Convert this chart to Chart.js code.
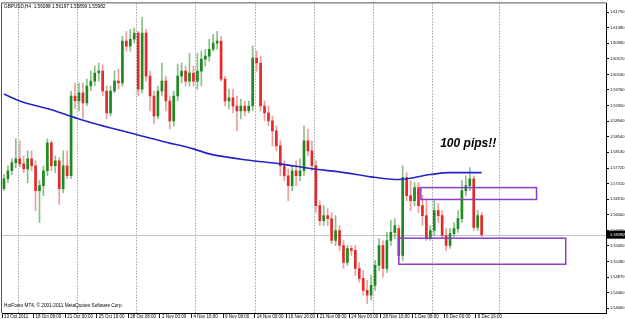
<!DOCTYPE html>
<html>
<head>
<meta charset="utf-8">
<script src="https://cdn.jsdelivr.net/npm/chart.js@4.4.0/dist/chart.umd.min.js"></script>
<style>
  html, body { margin: 0; padding: 0; background: #fff; }
  canvas { display: block; }
</style>
</head>
<body>
<canvas id="gbpChart" width="625" height="319"></canvas>
<script>
// GBPUSD, one candle per 8 hours
const opens = [
  1.5718, 1.5744, 1.5765, 1.5786, 1.5796, 1.5783, 1.5770, 1.5796, 1.5778, 1.5713,
  1.5726, 1.5765, 1.5838, 1.5778, 1.5791, 1.5718, 1.5778, 1.5752, 1.5960, 1.5947,
  1.5968, 1.5942, 1.5986, 1.5999, 1.6020, 1.6025, 1.5973, 1.5916, 1.5973, 1.5999,
  1.5994, 1.6103, 1.6090, 1.6108, 1.6124, 1.5978, 1.6124, 1.6012, 1.5960, 1.5908,
  1.5973, 1.5999, 1.5947, 1.5895, 1.5960, 1.6012, 1.6025, 1.5999, 1.6020, 1.5999,
  1.6025, 1.6056, 1.6064, 1.6082, 1.6098, 1.6103, 1.6004, 1.5947, 1.5955, 1.5934,
  1.5921, 1.5934, 1.5921, 1.5934, 1.6059, 1.6046, 1.5934, 1.5916, 1.5895, 1.5869,
  1.5830, 1.5778, 1.5752, 1.5726, 1.5765, 1.5752, 1.5765, 1.5843, 1.5817, 1.5778,
  1.5674, 1.5635, 1.5648, 1.5640, 1.5583, 1.5609, 1.5570, 1.5526, 1.5562, 1.5557,
  1.5510, 1.5484, 1.5453, 1.5440, 1.5466, 1.5518, 1.5570, 1.5510, 1.5583, 1.5604,
  1.5614, 1.5544, 1.5747, 1.5700, 1.5687, 1.5721, 1.5674, 1.5648, 1.5588, 1.5609,
  1.5661, 1.5648, 1.5596, 1.5570, 1.5601, 1.5614, 1.5640, 1.5713, 1.5726, 1.5744,
  1.5617, 1.5648
];
const highs = [
  1.5755, 1.5778, 1.5796, 1.5848, 1.5843, 1.5804, 1.5817, 1.5817, 1.5791, 1.5739,
  1.5778, 1.5848, 1.5843, 1.5804, 1.5799, 1.5817, 1.5817, 1.5973, 1.5994, 1.5994,
  1.5994, 1.6004, 1.6025, 1.6038, 1.6046, 1.6041, 1.5986, 1.5986, 1.6025, 1.6030,
  1.6116, 1.6129, 1.6134, 1.6137, 1.6129, 1.6165, 1.6134, 1.6025, 1.5973, 1.5986,
  1.6046, 1.6012, 1.5960, 1.5973, 1.6043, 1.6046, 1.6038, 1.6072, 1.6038, 1.6072,
  1.6077, 1.6082, 1.6108, 1.6121, 1.6129, 1.6116, 1.6012, 1.5978, 1.5978, 1.5960,
  1.5952, 1.5947, 1.5947, 1.6090, 1.6077, 1.6064, 1.5947, 1.5934, 1.5908, 1.5882,
  1.5843, 1.5791, 1.5770, 1.5778, 1.5791, 1.5796, 1.5882, 1.5874, 1.5843, 1.5791,
  1.5687, 1.5674, 1.5666, 1.5656, 1.5648, 1.5622, 1.5583, 1.5570, 1.5570, 1.5570,
  1.5526, 1.5505, 1.5479, 1.5492, 1.5531, 1.5588, 1.5583, 1.5604, 1.5635, 1.5640,
  1.5622, 1.5778, 1.5760, 1.5739, 1.5734, 1.5734, 1.5700, 1.5687, 1.5622, 1.5687,
  1.5679, 1.5661, 1.5614, 1.5614, 1.5630, 1.5661, 1.5739, 1.5752, 1.5773, 1.5752,
  1.5661, 1.5656
];
const lows = [
  1.5713, 1.5734, 1.5755, 1.5773, 1.5775, 1.5760, 1.5734, 1.5765, 1.5661, 1.5630,
  1.5700, 1.5752, 1.5765, 1.5760, 1.5677, 1.5708, 1.5744, 1.5744, 1.5926, 1.5921,
  1.5903, 1.5934, 1.5973, 1.5986, 1.5999, 1.5960, 1.5900, 1.5908, 1.5968, 1.5978,
  1.5986, 1.6077, 1.6077, 1.6098, 1.5960, 1.5968, 1.5999, 1.5921, 1.5887, 1.5900,
  1.5960, 1.5921, 1.5874, 1.5882, 1.5947, 1.5994, 1.5986, 1.5986, 1.5986, 1.5978,
  1.5986, 1.6038, 1.6051, 1.6077, 1.6082, 1.5999, 1.5934, 1.5926, 1.5916, 1.5869,
  1.5900, 1.5908, 1.5916, 1.5921, 1.6025, 1.5921, 1.5895, 1.5882, 1.5830, 1.5817,
  1.5752, 1.5739, 1.5687, 1.5713, 1.5726, 1.5739, 1.5752, 1.5804, 1.5765, 1.5656,
  1.5622, 1.5622, 1.5622, 1.5575, 1.5570, 1.5557, 1.5510, 1.5518, 1.5544, 1.5492,
  1.5474, 1.5440, 1.5419, 1.5427, 1.5453, 1.5505, 1.5487, 1.5500, 1.5570, 1.5588,
  1.5531, 1.5531, 1.5687, 1.5661, 1.5674, 1.5656, 1.5622, 1.5583, 1.5583, 1.5596,
  1.5630, 1.5588, 1.5557, 1.5562, 1.5593, 1.5604, 1.5630, 1.5700, 1.5713, 1.5609,
  1.5609, 1.5593
];
const closes = [
  1.5744, 1.5765, 1.5786, 1.5796, 1.5783, 1.5770, 1.5796, 1.5778, 1.5713, 1.5726,
  1.5765, 1.5838, 1.5778, 1.5791, 1.5718, 1.5778, 1.5752, 1.5960, 1.5947, 1.5968,
  1.5942, 1.5986, 1.5999, 1.6020, 1.6025, 1.5973, 1.5916, 1.5973, 1.5999, 1.5994,
  1.6103, 1.6090, 1.6108, 1.6124, 1.5978, 1.6124, 1.6012, 1.5960, 1.5908, 1.5973,
  1.5999, 1.5947, 1.5895, 1.5960, 1.6012, 1.6025, 1.5999, 1.6020, 1.5999, 1.6025,
  1.6056, 1.6064, 1.6082, 1.6098, 1.6103, 1.6004, 1.5947, 1.5955, 1.5934, 1.5921,
  1.5934, 1.5921, 1.5934, 1.6059, 1.6046, 1.5934, 1.5916, 1.5895, 1.5869, 1.5830,
  1.5778, 1.5752, 1.5726, 1.5765, 1.5752, 1.5765, 1.5843, 1.5817, 1.5778, 1.5674,
  1.5635, 1.5648, 1.5640, 1.5583, 1.5609, 1.5570, 1.5526, 1.5562, 1.5557, 1.5510,
  1.5484, 1.5453, 1.5440, 1.5466, 1.5518, 1.5570, 1.5510, 1.5583, 1.5604, 1.5622,
  1.5544, 1.5747, 1.5700, 1.5687, 1.5721, 1.5674, 1.5648, 1.5588, 1.5609, 1.5661,
  1.5648, 1.5596, 1.5570, 1.5601, 1.5614, 1.5640, 1.5713, 1.5726, 1.5744, 1.5617,
  1.5648, 1.55982
];

// moving average, sampled along the blue curve
const maIndex = [0, 4, 12, 19, 24, 33, 40, 48, 52, 63, 70, 78, 85, 93, 100, 108, 113, 121];
const maValues = [1.5965, 1.5947, 1.5924, 1.5900, 1.5885, 1.5861, 1.5842, 1.5822, 1.5809,
  1.5791, 1.5783, 1.5770, 1.5762, 1.5749, 1.5742, 1.5755, 1.5760, 1.5760];

const timeLabels = ["13 Oct 2011", "18 Oct 08:00", "21 Oct 00:00", "25 Oct 16:00", "28 Oct 08:00",
  "2 Nov 00:00", "4 Nov 16:00", "9 Nov 08:00", "14 Nov 00:00", "16 Nov 16:00", "21 Nov 08:00",
  "24 Nov 00:00", "28 Nov 16:00", "1 Dec 08:00", "6 Dec 00:00", "8 Dec 16:00"];
const priceTicks = [1.6179, 1.6138, 1.6098, 1.6057, 1.6016, 1.5976, 1.5935, 1.5894, 1.5854, 1.5813,
  1.5772, 1.5731, 1.5691, 1.5650, 1.5609, 1.5569, 1.5528, 1.5487, 1.5446, 1.5406];
const weekStarts = [4, 19, 34, 49, 64, 79, 94, 109, 126];
const lastPrice = 1.55982;
// drawn rectangles: [fromIndex, toIndex, topPrice, bottomPrice]
const zones = [[105.6, 134.9, 1.5721, 1.5690], [100, 142.3, 1.5589, 1.5521]];

const slotCount = 153;
const slots = Array.from({ length: slotCount }, (_, i) => i);
const bull = (i) => closes[i] >= opens[i];
const hasLabel = (i) => i % 8 === 0 && timeLabels[i / 8] !== undefined;

const overlay = {
  id: 'overlay',
  beforeDatasetsDraw(chart) {
    const { ctx, chartArea: a, scales: { x, y } } = chart;
    const half = (x.getPixelForValue(1) - x.getPixelForValue(0)) / 2;
    ctx.save();
    ctx.lineWidth = 1;
    ctx.strokeStyle = '#777';
    ctx.setLineDash([1, 2]);
    weekStarts.forEach((w) => {
      const px = Math.round(x.getPixelForValue(w) - half) + 0.5;
      ctx.beginPath(); ctx.moveTo(px, a.top); ctx.lineTo(px, a.bottom); ctx.stroke();
    });
    ctx.setLineDash([]);
    ctx.strokeStyle = '#c4c4c4';
    const by = Math.round(y.getPixelForValue(lastPrice)) + 0.5;
    ctx.beginPath(); ctx.moveTo(a.left, by); ctx.lineTo(a.right, by); ctx.stroke();
    ctx.restore();
  },
  afterDraw(chart) {
    const { ctx, chartArea: a, scales: { x, y } } = chart;
    ctx.save();
    // frame top / left
    ctx.strokeStyle = '#555';
    ctx.lineWidth = 1;
    ctx.beginPath();
    ctx.moveTo(a.left - 0.5, a.bottom); ctx.lineTo(a.left - 0.5, a.top - 0.5); ctx.lineTo(a.right, a.top - 0.5);
    ctx.stroke();

    // rectangles
    ctx.strokeStyle = '#8a3fc6';
    ctx.lineWidth = 1.5;
    zones.forEach(([f, t, top, bot]) => {
      const x0 = x.getPixelForValue(f), x1 = x.getPixelForValue(t);
      const y0 = y.getPixelForValue(top), y1 = y.getPixelForValue(bot);
      ctx.strokeRect(x0, y0, x1 - x0, y1 - y0);
    });

    // note
    ctx.fillStyle = '#000';
    ctx.font = 'italic bold 12px "Liberation Sans"';
    ctx.textBaseline = 'middle';
    ctx.fillText('100 pips!!', x.getPixelForValue(110.5), y.getPixelForValue(1.5835));

    // captions
    ctx.font = '4.7px "Liberation Sans"';
    ctx.fillText('GBPUSD,H4  1.56088 1.56197 1.55899 1.55982', a.left + 2, a.top + 3);
    ctx.fillText('HotForex MT4, \u00a9 2001-2011 MetaQuotes Software Corp.', a.left + 2, a.bottom - 7);

    // last price tag
    const py = y.getPixelForValue(lastPrice);
    ctx.fillStyle = '#000';
    ctx.fillRect(a.right + 1, py - 4, chart.width - a.right - 1, 8);
    ctx.fillStyle = '#fff';
    ctx.font = '4.2px "Liberation Sans"';
    ctx.fillText(lastPrice.toFixed(5), a.right + 4, py);
    ctx.restore();
  }
};

new Chart(document.getElementById('gbpChart'), {
  type: 'bar',
  data: {
    labels: slots,
    datasets: [
      {
        type: 'line',
        data: maIndex.map((i, k) => ({ x: i, y: maValues[k] })),
        borderColor: '#2424c8',
        borderWidth: 1.6,
        pointRadius: 0,
        cubicInterpolationMode: 'monotone',
        order: 0
      },
      {
        data: opens.map((o, i) => [o, closes[i]]),
        backgroundColor: (c) => (bull(c.dataIndex) ? '#1f8a1f' : '#e32a2a'),
        barThickness: 2,
        minBarLength: 1,
        grouped: false,
        order: 1
      },
      {
        data: lows.map((l, i) => [l, highs[i]]),
        backgroundColor: (c) => (bull(c.dataIndex) ? 'rgba(40,140,40,0.55)' : 'rgba(225,60,60,0.5)'),
        barThickness: 1,
        grouped: false,
        order: 2
      }
    ]
  },
  options: {
    responsive: false,
    animation: false,
    layout: { padding: { left: 2, top: 2 } },
    plugins: { legend: { display: false }, tooltip: { enabled: false } },
    scales: {
      x: {
        type: 'category',
        offset: true,
        afterFit: (s) => { s.height = 6; },
        grid: {
          offset: true,
          drawOnChartArea: false,
          tickLength: 5,
          color: (c) => (hasLabel(c.index) ? '#222' : 'rgba(0,0,0,0)')
        },
        border: { color: '#000' },
        ticks: {
          autoSkip: false,
          maxRotation: 0,
          align: 'start',
          padding: -4,
          color: '#000',
          font: { family: 'Liberation Sans', size: 4.5 },
          callback: (v, i) => (hasLabel(i) ? timeLabels[i / 8] : '')
        }
      },
      y: {
        position: 'right',
        min: 1.53938,
        max: 1.62016,
        afterBuildTicks: (s) => { s.ticks = priceTicks.map((v) => ({ value: v })); },
        afterFit: (s) => { s.width = 19; },
        grid: { drawOnChartArea: false, tickLength: 3, color: '#000' },
        border: { color: '#000' },
        ticks: {
          padding: 1,
          color: '#000',
          font: { family: 'Liberation Sans', size: 4 },
          callback: (v) => Number(v).toFixed(5)
        }
      }
    }
  },
  plugins: [overlay]
});
</script>
</body>
</html>
